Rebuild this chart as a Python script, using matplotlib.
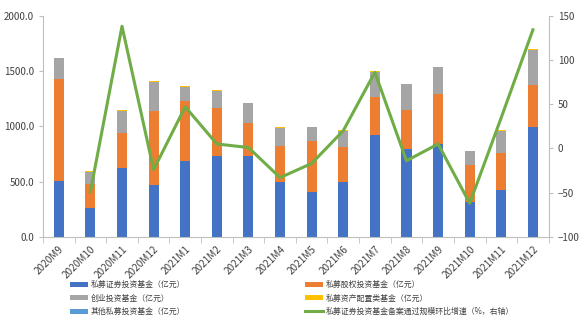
import numpy as np
import matplotlib
matplotlib.use('Agg')
import matplotlib.pyplot as plt
from matplotlib.ticker import FormatStrFormatter, FixedLocator

plt.rcParams['font.family'] = ['Noto Sans CJK SC', 'DejaVu Sans']

# 月份
months = ['2020M9', '2020M10', '2020M11', '2020M12', '2021M1', '2021M2', '2021M3', '2021M4',
          '2021M5', '2021M6', '2021M7', '2021M8', '2021M9', '2021M10', '2021M11', '2021M12']

# 各类基金备案规模（亿元）
securities = [506, 262, 620, 470, 686, 731, 734, 500, 409, 494, 921, 795, 837, 319, 422, 991]
equity = [918, 217, 316, 665, 542, 437, 295, 324, 458, 319, 346, 352, 457, 328, 337, 382]
venture = [190, 111, 205, 268, 129, 150, 181, 163, 126, 144, 220, 235, 238, 130, 198, 318]
asset_alloc = [2, 2, 9, 5, 7, 9, 3, 6, 3, 9, 9, 2, 2, 2, 9, 7]
others = [1, 1, 1, 1, 1, 1, 1, 1, 1, 1, 1, 1, 1, 1, 1, 1]

# 私募证券投资基金备案规模环比增速（%，右轴）
growth = [np.nan, -49, 138, -24, 47, 5, 1, -33, -17, 20, 86, -14, 5, -62, 35, 134]

labels = ['私募证券投资基金（亿元）', '私募股权投资基金（亿元）', '创业投资基金（亿元）',
          '私募资产配置类基金（亿元）', '其他私募投资基金（亿元）',
          '私募证券投资基金备案通过规模环比增速（%，右轴）']

colors = ['#4472C4', '#ED7D31', '#A5A5A5', '#FFC000', '#5B9BD5']

fig = plt.figure(figsize=(5.84, 3.25), dpi=100)
ax = fig.add_axes([0.0736, 0.271, 0.866, 0.681])

x = np.arange(len(months))
bottom = np.zeros(len(months))
bars = []
for vals, c in zip([securities, equity, venture, asset_alloc, others], colors):
    b = ax.bar(x, vals, 0.32, bottom=bottom, color=c, zorder=2)
    bars.append(b)
    bottom += np.array(vals)

ax.set_xlim(-0.5, len(months) - 0.5)
ax.set_ylim(0, 2000)
ax.set_yticks(np.arange(0, 2001, 500))
ax.yaxis.set_major_formatter(FormatStrFormatter('%.1f'))
ax.set_xticks(x)
ax.set_xticklabels(months, rotation=45, ha='right', rotation_mode='anchor', fontsize=7.2,
                   color='#404040')
ax.xaxis.set_minor_locator(FixedLocator(np.arange(-0.5, len(months), 1)))
ax.tick_params(axis='x', which='major', length=0, pad=5)
ax.tick_params(axis='x', which='minor', length=4, color='#BFBFBF')
ax.tick_params(axis='y', labelsize=7, length=3, color='#BFBFBF', labelcolor='#404040')
for s in ['top', 'right']:
    ax.spines[s].set_visible(False)
for s in ['left', 'bottom']:
    ax.spines[s].set_color('#BFBFBF')

ax2 = ax.twinx()
line, = ax2.plot(x, growth, color='#70AD47', linewidth=2.2, zorder=3)
ax2.set_ylim(-100, 150)
ax2.set_yticks(np.arange(-100, 151, 50))
ax2.tick_params(axis='y', labelsize=7, length=3, color='#BFBFBF', labelcolor='#404040')
for s in ['top', 'left', 'bottom']:
    ax2.spines[s].set_visible(False)
ax2.spines['right'].set_color('#BFBFBF')

# 图例：两列三行
handles = [bars[0], bars[2], bars[4], bars[1], bars[3], line]
leg_labels = [labels[0], labels[2], labels[4], labels[1], labels[3], labels[5]]
fig.legend(handles, leg_labels, ncol=2, loc='upper left', bbox_to_anchor=(0.1199, 0.138),
           frameon=False, fontsize=5.7, handlelength=2.3, handleheight=0.6,
           columnspacing=15.2, labelspacing=0.55, handletextpad=0.26,
           borderpad=0, borderaxespad=0, labelcolor='#404040')

fig.savefig('out.png', dpi=100)
